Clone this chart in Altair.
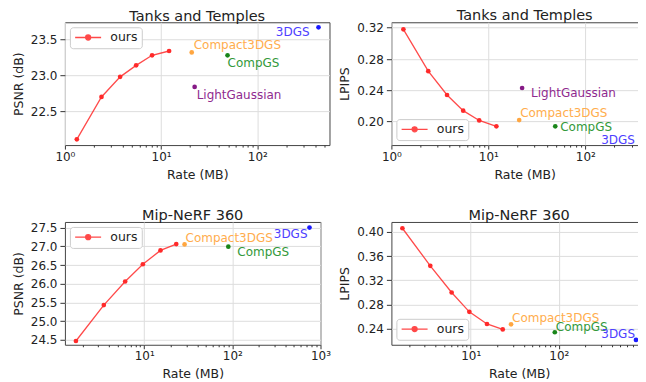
import altair as alt
import pandas as pd

FONT = "DejaVu Sans"
RED = "#ff2a2a"

# ---------------- data ----------------
tnt_rate = [1.33, 2.4, 3.75, 5.5, 8.05, 12.1]
tnt_psnr = [22.11, 22.70, 22.98, 23.14, 23.28, 23.34]
tnt_lpips = [0.318, 0.2645, 0.234, 0.214, 0.2015, 0.194]
tnt_methods = ["Compact3DGS", "CompGS", "LightGaussian", "3DGS"]
tnt_method_rate = [20.8, 49.0, 22.3, 432.0]
tnt_method_psnr = [23.32, 23.28, 22.84, 23.67]
tnt_method_lpips = [0.202, 0.194, 0.243, 0.177]

mip_rate = [1.68, 3.48, 6.08, 9.65, 15.3, 23.1]
mip_psnr = [24.47, 25.43, 26.06, 26.52, 26.89, 27.06]
mip_lpips = [0.406, 0.344, 0.300, 0.268, 0.248, 0.239]
mip_methods = ["Compact3DGS", "CompGS", "3DGS"]
mip_method_rate = [28.7, 90.0, 750.0]
mip_method_psnr = [27.05, 26.99, 27.50]
mip_method_lpips = [0.2475, 0.2344, 0.2217]

psnr_ticks_tnt = [22.5, 23.0, 23.5]
lpips_ticks_tnt = [0.20, 0.24, 0.28, 0.32]
psnr_ticks_mip = [24.5, 25.0, 25.5, 26.0, 26.5, 27.0, 27.5]
lpips_ticks_mip = [0.24, 0.28, 0.32, 0.36, 0.40]

# ---------------- styles ----------------
DOT_COLORS = {"Compact3DGS": "#ffa640", "CompGS": "#1a861a", "LightGaussian": "#861a86", "3DGS": "#1a1aff"}
TEXT_COLORS = {"Compact3DGS": "#ffad4d", "CompGS": "#33993a", "LightGaussian": "#8f2a8f", "3DGS": "#4d40ff"}

MAJOR = "(datum.value == 1 || datum.value == 10 || datum.value == 100 || datum.value == 1000)"
LABEL = ("datum.value == 1 ? '10⁰' : datum.value == 10 ? '10¹' : "
         "datum.value == 100 ? '10²' : datum.value == 1000 ? '10³' : ''")

LEGEND_PATH = "M-1,0L4.2,0M2.1,0A0.5,0.5,0,1,1,1.1,0A0.5,0.5,0,1,1,2.1,0Z"


def x_axis(dom):
    lo, hi = dom
    vals = []
    for k in range(0, 4):
        for m in range(1, 10):
            v = m * 10 ** k
            if lo * 0.999 <= v <= hi * 1.001:
                vals.append(v)
    return alt.Axis(
        values=vals, title="Rate (MB)", labelExpr=LABEL, labelFlush=False, labelOverlap=False,
        tickSize={"condition": {"test": MAJOR, "value": 4}, "value": 2},
        gridOpacity={"condition": {"test": MAJOR, "value": 1}, "value": 0},
        labelPadding=2, titlePadding=6,
    )


def panel(title, ytitle, rate, vals, methods, mrate, mvals, xdom, ydom, yticks, yfmt,
          legend_orient, offsets, width, height):
    ours = pd.DataFrame({"rate": rate, "v": vals, "series": ["ours"] * len(rate)})
    others = pd.DataFrame({"rate": mrate, "v": mvals, "method": methods,
                           "dot": [DOT_COLORS[m] for m in methods]})
    x = alt.X("rate:Q", scale=alt.Scale(type="log", domain=list(xdom), nice=False), axis=x_axis(xdom))
    y = alt.Y("v:Q", scale=alt.Scale(domain=list(ydom), nice=False, zero=False),
              axis=alt.Axis(values=yticks, format=yfmt, title=ytitle, labelPadding=3, titlePadding=5))
    line = alt.Chart(ours).mark_line(
        strokeWidth=1.3, opacity=0.85,
        point=alt.OverlayMarkDef(filled=True, size=22, opacity=1),
    ).encode(
        x=x, y=y,
        color=alt.Color("series:N", scale=alt.Scale(domain=["ours"], range=[RED]),
                        legend=alt.Legend(
                            title=None, orient=legend_orient, offset=5, padding=4,
                            fillColor="white", strokeColor="#cccccc", cornerRadius=3,
                            labelFontSize=12.5, labelFont=FONT, labelColor="#222222",
                            symbolType=LEGEND_PATH, symbolSize=100, symbolStrokeWidth=1.3,
                            symbolFillColor=RED, symbolStrokeColor=RED, labelOffset=24,
                        )),
    )
    dots = alt.Chart(others).mark_circle(size=22, opacity=1).encode(
        x=x, y=y, fill=alt.Fill("dot:N", scale=None))
    layers = [line, dots]
    for m in methods:
        align, dx, dy = offsets[m]
        layers.append(
            alt.Chart(others).transform_filter(alt.datum.method == m).mark_text(
                align=align, baseline="alphabetic", dx=dx, dy=dy, fontSize=12, font=FONT,
                color=TEXT_COLORS[m],
            ).encode(x=x, y=y, text="method:N")
        )
    return alt.layer(*layers).properties(
        width=width, height=height,
        title=alt.Title(title, fontSize=14.5, font=FONT, fontWeight="normal", color="#222222", offset=-2),
    )


p1 = panel("Tanks and Temples", "PSNR (dB)", tnt_rate, tnt_psnr, tnt_methods, tnt_method_rate,
           tnt_method_psnr, (1, 562), (22.03, 23.74), psnr_ticks_tnt, ".1f", "top-left",
           {"Compact3DGS": ("left", 2, -3), "CompGS": ("left", 0, 12),
            "LightGaussian": ("left", 2, 12), "3DGS": ("right", -9, 9)}, 265, 123)
p2 = panel("Tanks and Temples", "LPIPS", tnt_rate, tnt_lpips, tnt_methods, tnt_method_rate,
           tnt_method_lpips, (1, 562), (0.170, 0.327), lpips_ticks_tnt, ".2f", "bottom-left",
           {"Compact3DGS": ("left", 1, -3), "CompGS": ("left", 5, 5),
            "LightGaussian": ("left", 9, 9), "3DGS": ("right", -12, 4)}, 267, 123)
p3 = panel("Mip-NeRF 360", "PSNR (dB)", mip_rate, mip_psnr, mip_methods, mip_method_rate,
           mip_method_psnr, (1.26, 1000), (24.37, 27.65), psnr_ticks_mip, ".1f", "top-left",
           {"Compact3DGS": ("left", 1, -2), "CompGS": ("left", 9, 9),
            "3DGS": ("right", -2, 10)}, 256, 123)
p4 = panel("Mip-NeRF 360", "LPIPS", mip_rate, mip_lpips, mip_methods, mip_method_rate,
           mip_method_lpips, (1.26, 1000), (0.2137, 0.4164), lpips_ticks_mip, ".2f", "bottom-left",
           {"Compact3DGS": ("left", 1, -2), "CompGS": ("left", 1, -1),
            "3DGS": ("right", -1, -2)}, 256, 123)

row1 = alt.hconcat(p1, p2, spacing=62, bounds="flush").resolve_scale(color="independent").resolve_legend(color="independent")
row2 = alt.hconcat(p3, p4, spacing=71, bounds="flush").resolve_scale(color="independent").resolve_legend(color="independent")

chart = alt.vconcat(row1, row2, spacing=26).resolve_scale(color="independent").resolve_legend(
    color="independent"
).properties(
    padding={"left": 3, "top": -1, "right": -21, "bottom": 0}
).configure(font=FONT).configure_axis(
    labelFont=FONT, labelFontSize=12, labelColor="#222222",
    titleFont=FONT, titleFontSize=12.5, titleFontWeight="normal", titleColor="#222222",
    tickColor="#333333", tickWidth=1, domain=False, gridColor="#dddddd", gridWidth=1,
).configure_view(stroke="#444444", strokeWidth=1)

chart.save("out.html", embed_options={"renderer": "svg", "actions": False})
